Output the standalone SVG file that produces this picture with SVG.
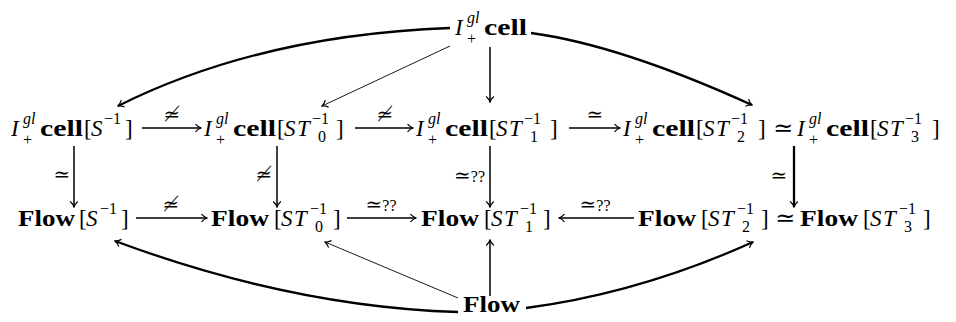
<svg xmlns="http://www.w3.org/2000/svg" width="956" height="322" viewBox="0 0 956 322">
<defs>
<style>
text{font-family:"Liberation Serif","DejaVu Serif",serif;font-size:23px;fill:#000}
.i{font-style:italic}
.b{font-weight:bold}
.s{font-size:16px}
.lb{font-size:20px;font-family:"DejaVu Serif","Liberation Serif",serif}
.eq{font-size:24px;font-family:"DejaVu Serif","Liberation Serif",serif}
.q{font-family:"Liberation Serif",serif;font-size:16px}
.ln{fill:none;stroke:#000;stroke-width:1.5}
.th{stroke-width:2.3}
.tn{stroke-width:0.9}
</style>
<marker id="ah" viewBox="-7 -5 8 10" markerWidth="8" markerHeight="10" refX="0" refY="0" orient="auto" markerUnits="userSpaceOnUse">
<path d="M-5.5,-3.8 C-3.5,-1.6 -1.2,-0.4 0,0 C-1.2,0.4 -3.5,1.6 -5.5,3.8" fill="none" stroke="#000" stroke-width="1.2"/>
</marker>
</defs>
<rect width="956" height="322" fill="#fff"/>

<g id="top">
<text y="35"><tspan class="i" x="455">I</tspan><tspan class="i s" x="467" y="23">gl</tspan><tspan class="s" x="467" y="44">+</tspan><tspan class="b" x="484" y="35" textLength="43" lengthAdjust="spacingAndGlyphs">cell</tspan></text>
</g>

<g id="cellS">
<text y="136"><tspan class="i" x="11">I</tspan><tspan class="i s" x="23" y="124">gl</tspan><tspan class="s" x="23" y="145">+</tspan><tspan class="b" x="40" y="136" textLength="43" lengthAdjust="spacingAndGlyphs">cell</tspan><tspan x="84">[</tspan><tspan class="i" x="91">S</tspan><tspan class="s" x="104" y="124">−1</tspan><tspan x="125" y="136">]</tspan></text>
</g>

<g id="cellST0">
<text y="136"><tspan class="i" x="204">I</tspan><tspan class="i s" x="216" y="124">gl</tspan><tspan class="s" x="216" y="145">+</tspan><tspan class="b" x="233" y="136" textLength="43" lengthAdjust="spacingAndGlyphs">cell</tspan><tspan x="277">[</tspan><tspan class="i" x="284">S</tspan><tspan class="i" x="297">T</tspan><tspan class="s" x="312" y="124">−1</tspan><tspan class="s" x="318" y="142">0</tspan><tspan x="336" y="136">]</tspan></text>
</g>

<g id="cellST1">
<text y="136"><tspan class="i" x="416">I</tspan><tspan class="i s" x="428" y="124">gl</tspan><tspan class="s" x="428" y="145">+</tspan><tspan class="b" x="445" y="136" textLength="43" lengthAdjust="spacingAndGlyphs">cell</tspan><tspan x="489">[</tspan><tspan class="i" x="496">S</tspan><tspan class="i" x="509">T</tspan><tspan class="s" x="524" y="124">−1</tspan><tspan class="s" x="530" y="142">1</tspan><tspan x="550" y="136">]</tspan></text>
</g>

<g id="cellST2">
<text y="136"><tspan class="i" x="623">I</tspan><tspan class="i s" x="635" y="124">gl</tspan><tspan class="s" x="635" y="145">+</tspan><tspan class="b" x="652" y="136" textLength="43" lengthAdjust="spacingAndGlyphs">cell</tspan><tspan x="696">[</tspan><tspan class="i" x="703">S</tspan><tspan class="i" x="716">T</tspan><tspan class="s" x="731" y="124">−1</tspan><tspan class="s" x="737" y="142">2</tspan><tspan x="758" y="136">]</tspan><tspan class="eq" x="773">≃</tspan><tspan class="i" x="797">I</tspan><tspan class="i s" x="809" y="124">gl</tspan><tspan class="s" x="809" y="145">+</tspan><tspan class="b" x="826" y="136" textLength="43" lengthAdjust="spacingAndGlyphs">cell</tspan><tspan x="870">[</tspan><tspan class="i" x="877">S</tspan><tspan class="i" x="890">T</tspan><tspan class="s" x="905" y="124">−1</tspan><tspan class="s" x="911" y="142">3</tspan><tspan x="932" y="136">]</tspan></text>
</g>

<g id="flowS">
<text y="226"><tspan class="b" x="18" textLength="57" lengthAdjust="spacingAndGlyphs">Flow</tspan><tspan x="79">[</tspan><tspan class="i" x="86">S</tspan><tspan class="s" x="100" y="214">−1</tspan><tspan x="121" y="226">]</tspan></text>
</g>

<g id="flowST0">
<text y="226"><tspan class="b" x="211" textLength="58" lengthAdjust="spacingAndGlyphs">Flow</tspan><tspan x="274">[</tspan><tspan class="i" x="281">S</tspan><tspan class="i" x="294">T</tspan><tspan class="s" x="310" y="214">−1</tspan><tspan class="s" x="315" y="232">0</tspan><tspan x="333" y="226">]</tspan></text>
</g>

<g id="flowST1">
<text y="226"><tspan class="b" x="421" textLength="58" lengthAdjust="spacingAndGlyphs">Flow</tspan><tspan x="484">[</tspan><tspan class="i" x="491">S</tspan><tspan class="i" x="504">T</tspan><tspan class="s" x="520" y="214">−1</tspan><tspan class="s" x="525" y="232">1</tspan><tspan x="543" y="226">]</tspan></text>
</g>

<g id="flowST2">
<text y="226"><tspan class="b" x="638" textLength="58" lengthAdjust="spacingAndGlyphs">Flow</tspan><tspan x="701">[</tspan><tspan class="i" x="708">S</tspan><tspan class="i" x="721">T</tspan><tspan class="s" x="737" y="214">−1</tspan><tspan class="s" x="742" y="232">2</tspan><tspan x="761" y="226">]</tspan><tspan class="eq" x="775">≃</tspan><tspan class="b" x="800" textLength="58" lengthAdjust="spacingAndGlyphs">Flow</tspan><tspan x="863">[</tspan><tspan class="i" x="870">S</tspan><tspan class="i" x="883">T</tspan><tspan class="s" x="899" y="214">−1</tspan><tspan class="s" x="904" y="232">3</tspan><tspan x="923" y="226">]</tspan></text>
</g>

<g id="bottom">
<text y="312"><tspan class="b" x="463" textLength="57" lengthAdjust="spacingAndGlyphs">Flow</tspan></text>
</g>

<g id="connectors">
<path class="ln th" d="M450,28 Q260,35 118,106" marker-end="url(#ah)"/>
<path class="ln tn" d="M450,46 L322,106" marker-end="url(#ah)"/>
<path class="ln" d="M490,47 L490,102" marker-end="url(#ah)"/>
<path class="ln th" d="M531,33 Q620,45 752,105" marker-end="url(#ah)"/>

<path class="ln" d="M142,128 L201,128" marker-end="url(#ah)"/>
<path class="ln" d="M355,128 L413,128" marker-end="url(#ah)"/>
<path class="ln" d="M569,128 L620,128" marker-end="url(#ah)"/>

<path class="ln" d="M74,146 L74,207" marker-end="url(#ah)" stroke-width="2.6"/>
<path class="ln" d="M277,146 L277,207" marker-end="url(#ah)"/>
<path class="ln" d="M490,146 L490,207" marker-end="url(#ah)"/>
<path class="ln th" d="M794,146 L794,207" marker-end="url(#ah)"/>

<path class="ln" d="M136,218 L207,218" marker-end="url(#ah)"/>
<path class="ln" d="M347,218 L416,218" marker-end="url(#ah)"/>
<path class="ln" d="M634,218 L559,218" marker-end="url(#ah)"/>

<path class="ln th" d="M458,312 Q293,307 115,241" marker-end="url(#ah)"/>
<path class="ln tn" d="M458,298 L325,242" marker-end="url(#ah)"/>
<path class="ln" d="M490,296 L490,240" marker-end="url(#ah)"/>
<path class="ln th" d="M526,308 Q640,293 753,242" marker-end="url(#ah)"/>

<text class="lb" x="172" y="121" text-anchor="middle">≄</text>
<text class="lb" x="385" y="121" text-anchor="middle">≄</text>
<text class="lb" x="595" y="121" text-anchor="middle">≃</text>
<text class="lb" x="62" y="181" text-anchor="middle">≃</text>
<text class="lb" x="264" y="181" text-anchor="middle">≄</text>
<text class="lb" x="485" y="182" text-anchor="end">≃<tspan class="q">??</tspan></text>
<text class="lb" x="779" y="182" text-anchor="middle">≃</text>
<text class="lb" x="171" y="211" text-anchor="middle">≄</text>
<text class="lb" x="381" y="211" text-anchor="middle">≃<tspan class="q">??</tspan></text>
<text class="lb" x="595" y="211" text-anchor="middle">≃<tspan class="q">??</tspan></text>
</g>
</svg>
